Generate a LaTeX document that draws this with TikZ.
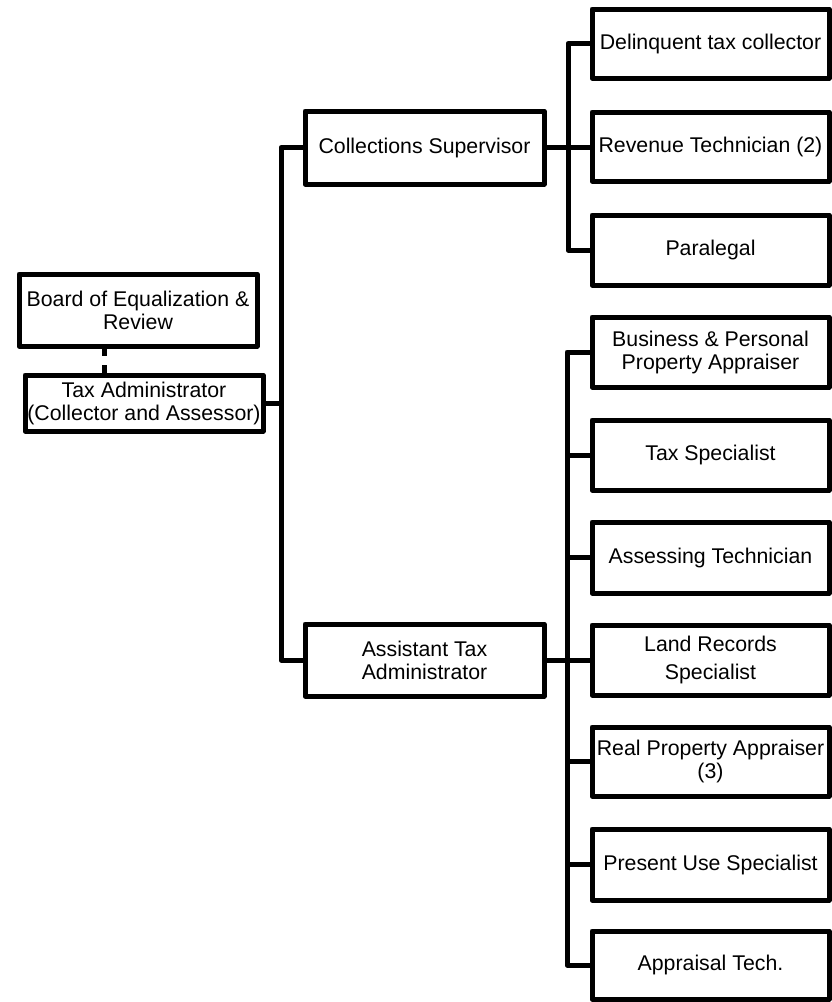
\documentclass[tikz,border=0pt]{standalone}
\usepackage{fontspec}
\setmainfont{Liberation Sans}
\begin{document}
\begin{tikzpicture}[x=1pt,y=-1pt,
  line width=5pt, line join=round,
  box/.style={draw, fill=white, inner sep=0pt, outer sep=0pt, align=center,
    font=\fontsize{21.3}{23}\selectfont, minimum width=#1},
  box/.default=237pt,
  link/.style={draw, line width=5pt}
]
\useasboundingbox (0,0) rectangle (832,1002);

% left column
\node[box=238pt, minimum height=72pt] (board) at (138,310) {Board of Equalization \&\\Review};
\node[box=238pt, minimum height=56pt] (taxadmin) at (144,403) {Tax Administrator\\(Collector and Assessor)};

% middle column
\node[box=239pt, minimum height=73pt] (coll) at (424.5,147.5) {Collections Supervisor};
\node[box=239pt, minimum height=72pt] (asst) at (424.5,660) {Assistant Tax\\Administrator};

% right column, collections
\node[box, minimum height=69pt] (delinq) at (710.5,43.5) {Delinquent tax collector};
\node[box, minimum height=69pt] (revenue) at (710.5,146.5) {Revenue Technician (2)};
\node[box, minimum height=70pt] (paralegal) at (710.5,250) {Paralegal};

% right column, assistant
\node[box, minimum height=70pt] (business) at (710.5,352) {Business \& Personal\\Property Appraiser};
\node[box, minimum height=70pt] (taxspec) at (710.5,455) {Tax Specialist};
\node[box, minimum height=71pt] (assess) at (710.5,557.5) {Assessing Technician};
\node[box, minimum height=70pt, font=\fontsize{21.3}{28}\selectfont] (land) at (710.5,660) {Land Records\\Specialist};
\node[box, minimum height=69pt] (real) at (710.5,761.5) {Real Property Appraiser\\(3)};
\node[box, minimum height=71pt] (present) at (710.5,864.5) {Present Use Specialist};
\node[box, minimum height=68pt] (appraisal) at (710.5,965) {Appraisal Tech.};

% bus coordinate
\coordinate (bus) at (281,403);

% connectors
\draw[link, dash pattern=on 10pt off 9pt, line join=miter]
  ([xshift=-34pt]board.south) -- ([xshift=-34pt]board.south |- taxadmin.north);

\draw[link] (coll.west) -- (coll.west -| bus) |- (asst.west);
\draw[link] (taxadmin.east) -- (bus);

\draw[link] (delinq.west) -- ++(-24,0) |- (paralegal.west);
\draw[link] (coll.east) -- (coll.east -| revenue.west);

\draw[link] (business.west) -- ++(-25,0) |- (appraisal.west);
\foreach \n in {taxspec,assess,real,present}
  \draw[link] (\n.west) -- ++(-25,0);
\draw[link] (asst.east) -- (asst.east -| land.west);
\end{tikzpicture}
\end{document}
